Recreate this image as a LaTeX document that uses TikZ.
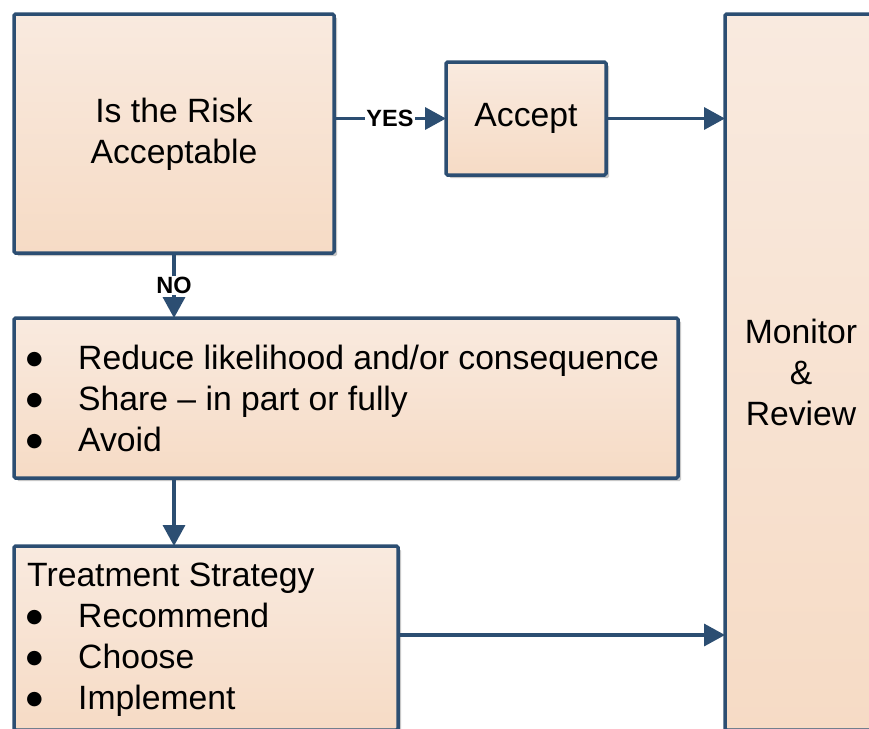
\documentclass[tikz,border=0pt]{standalone}
\usepackage{fontspec}
\setmainfont{Liberation Sans}
\newfontfamily\djfont{DejaVu Sans}
\usetikzlibrary{arrows.meta,shadows}
\definecolor{lc}{RGB}{44,78,114}
\definecolor{ftop}{RGB}{249,234,223}
\definecolor{fbot}{RGB}{246,219,197}
\tikzset{
  box/.style={draw=lc, line width=3.5pt, rounded corners=1.5pt, top color=ftop, bottom color=fbot,
    drop shadow={shadow xshift=3pt, shadow yshift=-3pt, fill=black!22, opacity=1},
    inner sep=0pt, outer sep=0pt},
  txt/.style={font=\fontsize{33.7}{41}\selectfont, inner sep=0pt},
  lbl/.style={font=\fontsize{23.5}{26}\selectfont\bfseries, fill=white, inner sep=1.5pt},
  arr/.style={draw=lc, line width=3.5pt, -{Triangle[length=21pt,width=22pt]}},
}
\newcommand{\bul}{\makebox[51pt][l]{\hspace*{-1pt}\raisebox{5pt}{\djfont\fontsize{19}{19}\selectfont ●}}}
\begin{document}
\begin{tikzpicture}[x=1pt,y=-1pt]
\useasboundingbox (0,0) rectangle (869,728);
\clip (0,0) rectangle (869,728);
\node[box, minimum width=320pt, minimum height=239pt] (risk) at (174,133.5) {};
\node[box, minimum width=160pt, minimum height=113pt] (accept) at (526,118.5) {};
\node[box, minimum width=152pt, minimum height=716pt] (monitor) at (801,372) {};
\node[box, minimum width=664pt, minimum height=160pt] (opts) at (346,398) {};
\node[box, minimum width=384pt, minimum height=184pt] (treat) at (206,638) {};

\node[txt, align=center] (risktext) at (174,134) {Is the Risk\\Acceptable};
\node[txt] (accepttext) at (526,118) {Accept};
\node[txt, align=center] (montext) at (801,372) {Monitor\\\&\\Review};
\node[txt, align=left, anchor=west] (optstext) at (27,398) {\bul Reduce likelihood and/or consequence\\\bul Share -- in part or fully\\\bul Avoid};
\node[txt, align=left, anchor=west] (treattext) at (27,640) {Treatment Strategy\\\bul Recommend\\\bul Choose\\\bul Implement};

\draw[arr] (risk.east |- accept.west) -- node[lbl] (yes) {YES} (accept.west);
\draw[arr] (accept.east) -- (accept.east -| monitor.west);
\draw[arr] (risk.south) -- node[lbl] (no) {NO} (risk.south |- opts.north);
\draw[arr] (risk.south |- opts.south) -- (risk.south |- treat.north);
\draw[arr] ([yshift=3pt]treat.east) -- ([yshift=3pt]treat.east -| monitor.west);
\end{tikzpicture}
\end{document}
